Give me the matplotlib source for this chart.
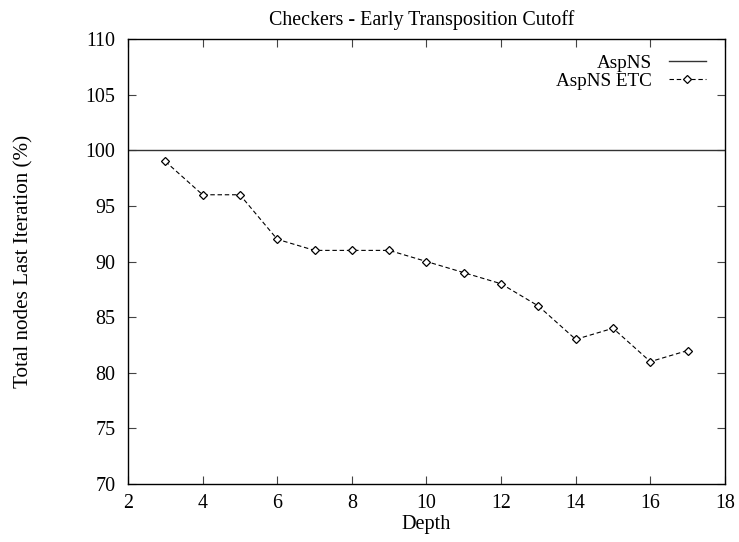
import matplotlib
matplotlib.use("Agg")
import matplotlib.pyplot as plt

depth = [3, 4, 5, 6, 7, 8, 9, 10, 11, 12, 13, 14, 15, 16, 17]
etc_pct = [99, 96, 96, 92, 91, 91, 91, 90, 89, 88, 86, 83, 84, 81, 82]
aspns_pct = 100
x_ticks = [2, 4, 6, 8, 10, 12, 14, 16, 18]
y_ticks = [70, 75, 80, 85, 90, 95, 100, 105, 110]

plt.rcParams['font.family'] = ['Liberation Serif', 'DejaVu Serif']
plt.rcParams['font.size'] = 14.4

fig = plt.figure(figsize=(7.39, 5.42), dpi=100)
ax = fig.add_axes([0.1732, 0.107, 0.981 - 0.1732, 0.928 - 0.107])

ax.axhline(aspns_pct, color='#333333', lw=1.0, label='AspNS')
ax.plot(depth, etc_pct, color='black', lw=0.8, ls=(0, (4, 2.5)),
        marker='D', markersize=4, markerfacecolor='white',
        markeredgecolor='black', markeredgewidth=0.9, label='AspNS ETC')

ax.set_xlim(2, 18)
ax.set_ylim(70, 110)
ax.set_xticks(x_ticks)
ax.set_yticks(y_ticks)
ax.tick_params(direction='in', length=6, width=0.8, top=True, right=True,
               color='#444444')
ax.tick_params(axis='y', pad=9)
ax.tick_params(axis='x', pad=7)
for s in ax.spines.values():
    s.set_linewidth(1.0)

ax.set_title('Checkers - Early Transposition Cutoff', fontsize=14.4, pad=10,
             x=0.4916)
ax.set_xlabel('Depth', fontsize=14.6)
ax.set_ylabel('Total nodes Last Iteration (%)', fontsize=15.2)
ax.yaxis.set_label_coords(-0.159, 0.5)
ax.xaxis.set_label_coords(0.5, -0.07)

ax.legend(loc='upper right', frameon=False, markerfirst=False,
          bbox_to_anchor=(1.0, 1.009), fontsize=13.8,
          handlelength=1.93, borderaxespad=0.6, borderpad=0.4,
          labelspacing=0.05, handletextpad=0.9)

fig.savefig('out.png', dpi=100)
